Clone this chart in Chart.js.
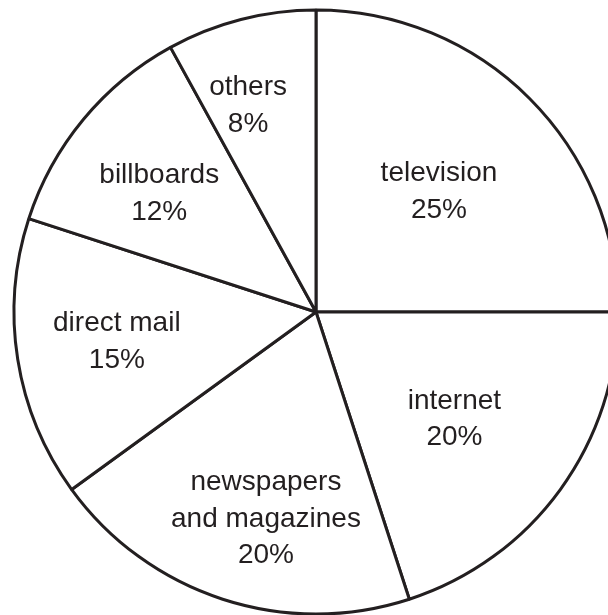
<!DOCTYPE html>
<html>
<head>
<meta charset="utf-8">
<script src="https://cdn.jsdelivr.net/npm/chart.js@4/dist/chart.umd.min.js"></script>
<style>
  html, body { margin: 0; padding: 0; background: #ffffff; overflow: hidden; width: 608px; height: 615px; }
  #wrap { position: absolute; left: 0; top: 0; width: 632px; height: 624px; }
</style>
</head>
<body>
<div id="wrap"><canvas id="c"></canvas></div>
<script>
// Data
const categories = ["television", "internet", "newspapers and magazines", "direct mail", "billboards", "others"];
const shares = [25, 20, 20, 15, 12, 8];
// Label text lines per slice (as printed on the chart)
const labelLines = [
  ["television", "25%"],
  ["internet", "20%"],
  ["newspapers", "and magazines", "20%"],
  ["direct mail", "15%"],
  ["billboards", "12%"],
  ["others", "8%"]
];

// Label placement (style): angle shift in degrees from slice middle, radial fraction
const labelPlacement = [
  [0.6, 0.57],
  [1.8, 0.58],
  [-4.4, 0.705],
  [0.4, 0.667],
  [-2.6, 0.65],
  [-3.8, 0.72]
];

const ink = '#231f20';

const sliceLabels = {
  id: 'sliceLabels',
  afterDatasetsDraw(chart) {
    const meta = chart.getDatasetMeta(0);
    const ctx = chart.ctx;
    ctx.save();
    ctx.fillStyle = ink;
    ctx.font = '28px "Liberation Sans", Arial, Helvetica, sans-serif';
    ctx.textAlign = 'center';
    ctx.textBaseline = 'middle';
    const lineH = 36.8;
    meta.data.forEach((arc, i) => {
      const p = arc.getProps(['x', 'y', 'startAngle', 'endAngle', 'outerRadius'], true);
      const mid = (p.startAngle + p.endAngle) / 2 + labelPlacement[i][0] * Math.PI / 180;
      const r = p.outerRadius * labelPlacement[i][1];
      const cx = p.x + Math.cos(mid) * r;
      const cy = p.y + Math.sin(mid) * r;
      const lines = labelLines[i];
      const top = cy - (lines.length - 1) * lineH / 2;
      lines.forEach((t, k) => ctx.fillText(t, cx, top + k * lineH));
    });
    ctx.restore();
  }
};

new Chart(document.getElementById('c'), {
  type: 'pie',
  data: {
    labels: categories,
    datasets: [{
      data: shares,
      backgroundColor: '#ffffff',
      borderColor: ink,
      borderWidth: 3,
      hoverOffset: 0
    }]
  },
  options: {
    responsive: true,
    maintainAspectRatio: false,
    animation: false,
    radius: 302,
    rotation: 0,
    layout: { padding: 0 },
    plugins: {
      legend: { display: false },
      tooltip: { enabled: false }
    },
    events: []
  },
  plugins: [sliceLabels]
});
</script>
</body>
</html>
